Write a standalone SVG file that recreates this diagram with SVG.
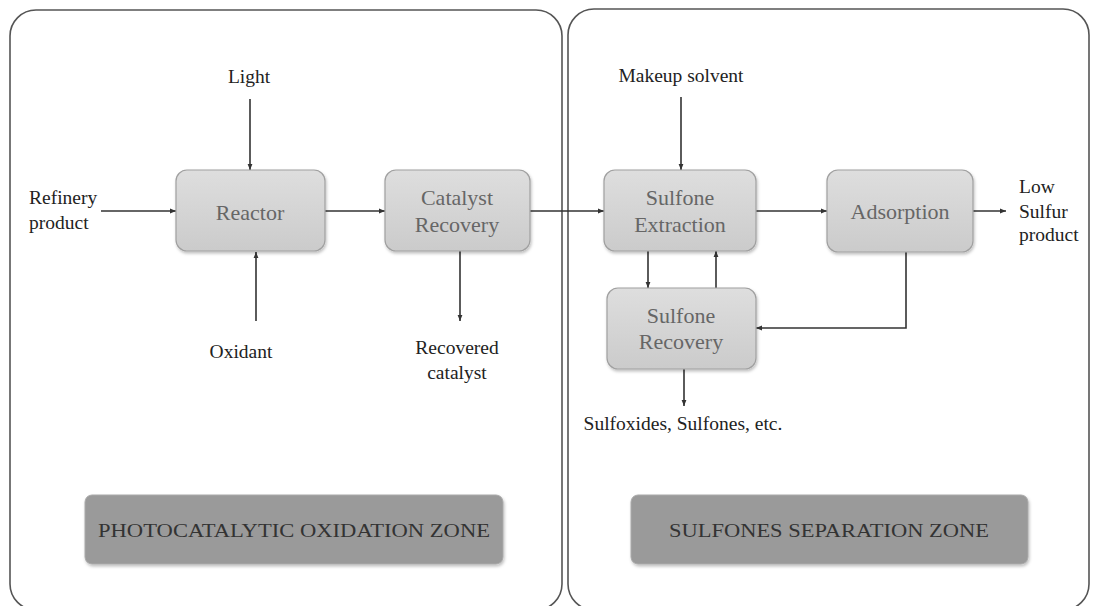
<svg xmlns="http://www.w3.org/2000/svg" width="1093" height="606" viewBox="0 0 1093 606">
<style>
.panel{fill:#fff;stroke:#555;stroke-width:1.6}
.node{fill:url(#ng);stroke:#a0a0a0;stroke-width:1.2;filter:url(#sh)}
.zone{fill:#9a9a9a;stroke:#aaa;stroke-width:1;filter:url(#sh)}
.nt{font-family:"Liberation Serif","DejaVu Serif",serif;font-size:22px;fill:#666;text-anchor:middle}
.lt{font-family:"Liberation Serif","DejaVu Serif",serif;font-size:19.5px;fill:#222}
.zt{font-family:"Liberation Serif","DejaVu Serif",serif;font-size:19px;fill:#333;text-anchor:middle}
.c{stroke:#333;stroke-width:1.6;fill:none;marker-end:url(#ah)}
</style>
<defs>
<linearGradient id="ng" x1="0" y1="0" x2="0" y2="1">
<stop offset="0" stop-color="#dedede"/>
<stop offset="1" stop-color="#cbcbcb"/>
</linearGradient>
<filter id="sh" x="-10%" y="-10%" width="120%" height="130%">
<feDropShadow dx="1" dy="2" stdDeviation="1.5" flood-color="#000" flood-opacity="0.25"/>
</filter>
<marker id="ah" viewBox="0 0 10 10" refX="10" refY="5" markerWidth="6" markerHeight="6" orient="auto" markerUnits="userSpaceOnUse">
<path d="M0,1 L10,5 L0,9 z" fill="#333"/>
</marker>
</defs>
<rect width="1093" height="606" fill="#fff"/>
<g id="panel-left"><rect class="panel" x="10" y="10" width="552" height="600" rx="26"/></g>
<g id="panel-right"><rect class="panel" x="568" y="9" width="521" height="601" rx="26"/></g>

<g id="connectors">
<line class="c" x1="250" y1="99" x2="250" y2="170"/>
<line class="c" x1="101" y1="211" x2="176" y2="211"/>
<line class="c" x1="256" y1="321" x2="256" y2="252"/>
<line class="c" x1="325" y1="211" x2="385" y2="211"/>
<line class="c" x1="460" y1="251" x2="460" y2="321"/>
<line class="c" x1="530" y1="211" x2="604" y2="211"/>
<line class="c" x1="681" y1="97" x2="681" y2="170"/>
<line class="c" x1="756" y1="211" x2="827" y2="211"/>
<line class="c" x1="973" y1="211" x2="1006" y2="211"/>
<line class="c" x1="648" y1="251" x2="648" y2="288"/>
<line class="c" x1="716" y1="288" x2="716" y2="251"/>
<polyline class="c" points="906,252 906,328 756,328"/>
<line class="c" x1="684" y1="369" x2="684" y2="406"/>
</g>

<g id="reactor"><rect class="node" x="176" y="170" width="149" height="81" rx="11"/><text class="nt" x="250" y="220">Reactor</text></g>
<g id="catalyst-recovery"><rect class="node" x="385" y="170" width="145" height="81" rx="11"/><text class="nt" x="457" y="205">Catalyst</text><text class="nt" x="457" y="232">Recovery</text></g>
<g id="sulfone-extraction"><rect class="node" x="604" y="170" width="152" height="81" rx="11"/><text class="nt" x="680" y="205">Sulfone</text><text class="nt" x="680" y="232">Extraction</text></g>
<g id="adsorption"><rect class="node" x="827" y="170" width="146" height="82" rx="11"/><text class="nt" x="900" y="219">Adsorption</text></g>
<g id="sulfone-recovery"><rect class="node" x="607" y="288" width="149" height="81" rx="11"/><text class="nt" x="681" y="323">Sulfone</text><text class="nt" x="681" y="349">Recovery</text></g>

<g id="label-light"><text class="lt" x="249" y="83" text-anchor="middle">Light</text></g>
<g id="label-refinery"><text class="lt" x="29" y="204">Refinery</text><text class="lt" x="29" y="229">product</text></g>
<g id="label-oxidant"><text class="lt" x="241" y="358" text-anchor="middle">Oxidant</text></g>
<g id="label-recovered"><text class="lt" x="457" y="354" text-anchor="middle">Recovered</text><text class="lt" x="457" y="379" text-anchor="middle">catalyst</text></g>
<g id="label-makeup"><text class="lt" x="681" y="82" text-anchor="middle">Makeup solvent</text></g>
<g id="label-low"><text class="lt" x="1019" y="193">Low</text><text class="lt" x="1019" y="218">Sulfur</text><text class="lt" x="1019" y="241">product</text></g>
<g id="label-sulfoxides"><text class="lt" x="683" y="430" text-anchor="middle">Sulfoxides, Sulfones, etc.</text></g>

<g id="zone-left"><rect class="zone" x="85" y="495" width="418" height="69" rx="7"/><text class="zt" x="294" y="537" textLength="392" lengthAdjust="spacingAndGlyphs">PHOTOCATALYTIC OXIDATION ZONE</text></g>
<g id="zone-right"><rect class="zone" x="631" y="495" width="397" height="69" rx="7"/><text class="zt" x="829" y="537" textLength="320" lengthAdjust="spacingAndGlyphs">SULFONES SEPARATION ZONE</text></g>
</svg>
